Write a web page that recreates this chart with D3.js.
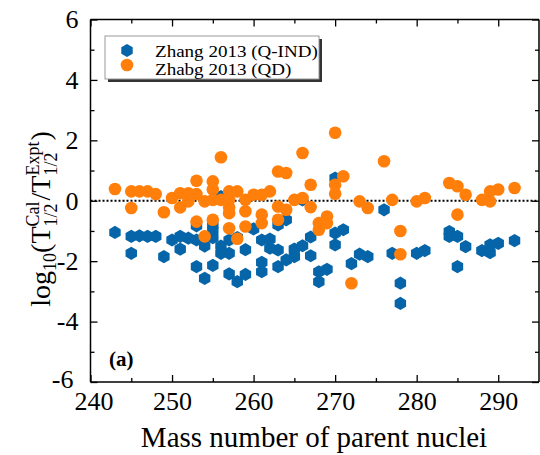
<!DOCTYPE html>
<html>
<head>
<meta charset="utf-8">
<script src="https://cdn.jsdelivr.net/npm/d3@7"></script>
<style>
  html, body { margin: 0; padding: 0; background: #fff; }
  svg { display: block; }
  text { font-family: "Liberation Serif", "Times New Roman", serif; fill: #000; }
</style>
</head>
<body>
<svg id="chart" width="540" height="455"></svg>
<script>
// ---------- data ----------
const seriesNames = ["Zhang 2013 (Q-IND)", "Zhabg 2013 (QD)"];
const qindMass = [243,245,245,246,247,248,249,250,251,251,252,253,253,253,254,254,255,255,255,255,256,256,256,257,257,257,258,258,259,259,260,261,261,261,262,262,263,263,263,264,264,265,265,266,266,267,267,268,268,269,270,270,270,271,272,273,274,276,277,278,278,280,281,284,284,285,285,286,288,289,289,290,292];
const qindVal  = [-1.05,-1.18,-1.74,-1.16,-1.18,-1.18,-1.85,-1.30,-1.18,-1.60,-1.24,-1.30,-0.83,-2.18,-2.57,-1.50,-0.80,-1.22,-2.14,-0.98,0.14,-1.50,-1.74,-1.74,-1.30,-2.42,-2.68,-1.22,-2.44,-1.62,-0.93,-1.30,-2.04,-2.35,-1.27,-1.57,-1.63,-2.18,-0.80,-0.63,-1.96,-1.60,-1.85,-1.49,0.03,-1.20,-1.82,-2.35,-2.68,-2.27,0.75,-1.07,-1.46,-0.96,-2.08,-1.77,-1.85,-0.30,-1.74,-2.73,-3.40,-1.74,-1.65,-1.02,-1.18,-1.18,-2.18,-1.52,-1.65,-1.46,-1.72,-1.41,-1.32];
const qdMass = [243,245,245,246,247,248,249,250,251,251,252,252,253,253,253,254,254,255,255,255,255,256,256,257,257,257,257,257,258,258,259,259,259,260,261,261,261,262,263,264,263,263,264,265,266,266,267,267,268,268,269,269,270,270,270,271,272,273,274,276,277,278,278,280,281,284,285,285,286,288,289,289,290,292];
const qdVal  = [0.39,0.31,-0.24,0.31,0.31,0.22,-0.38,0.09,0.25,-0.22,0.25,-0.02,0.66,0.22,-0.69,-0.02,-1.18,0.64,0.37,0.03,-0.63,1.44,0.03,0.31,0.03,-0.22,-0.41,-0.91,0.31,-1.26,0.03,-0.35,-0.85,0.20,0.20,-0.46,-0.74,0.31,0.97,0.92,-0.19,-0.63,-0.30,0.03,1.58,0.09,0.53,-0.21,-0.74,-0.96,-0.52,-0.74,2.25,0.53,0.23,0.81,-2.73,-0.02,-0.24,1.31,0.03,-1.00,-1.77,-0.02,0.09,0.59,0.48,-0.46,0.20,0.03,0.31,-0.02,0.37,0.42];
const xTicks = [240,250,260,270,280,290];
const yTicks = [-6,-4,-2,0,2,4,6];
const xLabel = "Mass number of parent nuclei";
const panelLabel = "(a)";

// ---------- layout ----------
const W = 540, H = 455;
const m = { left: 90.5, right: 1, top: 19.5, bottom: 73 };
const svg = d3.select("#chart");
const x = d3.scaleLinear().domain([240, 295]).range([m.left, W - m.right]);
const y = d3.scaleLinear().domain([-6, 6]).range([H - m.bottom, m.top]);
const blue = "#0565A8", orange = "#FF7F0A";
const fmt = d => String(d);

function hexPath(r) {
  const pts = d3.range(6).map(k => {
    const a = (-90 + 60 * k) * Math.PI / 180;
    return [r * Math.cos(a), r * Math.sin(a)];
  });
  return "M" + pts.map(p => p.join(",")).join("L") + "Z";
}

// zero line
svg.append("line")
  .attr("x1", x(240)).attr("x2", x(295))
  .attr("y1", y(0)).attr("y2", y(0))
  .attr("stroke", "#000").attr("stroke-width", 2)
  .attr("stroke-dasharray", "2,2");

// data
const qind = qindMass.map((a, i) => ({ a, v: qindVal[i] }));
const qd = qdMass.map((a, i) => ({ a, v: qdVal[i] }));
svg.append("g").selectAll("path").data(qind).join("path")
  .attr("d", hexPath(6.6))
  .attr("transform", d => `translate(${x(d.a)},${y(d.v)})`)
  .attr("fill", blue);
svg.append("g").selectAll("circle").data(qd).join("circle")
  .attr("cx", d => x(d.a)).attr("cy", d => y(d.v)).attr("r", 6.3)
  .attr("fill", orange);

// axes
const axStyle = g => {
  g.selectAll(".domain").attr("stroke", "#000").attr("stroke-width", 1.5);
  g.selectAll(".tick line").attr("stroke", "#000").attr("stroke-width", 1.3);
};
const xMinor = d3.range(245, 295, 10);
const yMinor = d3.range(-5, 6, 2);

// bottom
const gB = svg.append("g").attr("transform", `translate(0,${y(-6)})`)
  .call(d3.axisBottom(x).tickValues(xTicks).tickFormat(fmt).tickSize(-7).tickPadding(10).tickSizeOuter(0));
gB.selectAll(".tick text").attr("font-size", 26).attr("font-family", "Liberation Serif")
  .attr("dx", d => d === 240 ? 3 : 0);
gB.selectAll(".domain").attr("d", `M${x(240)},0H${x(295)}`);
axStyle(gB);
svg.append("g").attr("transform", `translate(0,${y(-6)})`)
  .call(d3.axisBottom(x).tickValues(xMinor).tickSize(-4).tickFormat("").tickSizeOuter(0))
  .call(g => g.select(".domain").remove()).call(axStyle);
// top
const gT = svg.append("g").attr("transform", `translate(0,${y(6)})`)
  .call(d3.axisTop(x).tickValues(xTicks).tickSize(-7).tickFormat("").tickSizeOuter(0));
gT.selectAll(".domain").attr("d", `M${x(240)},0H${x(295)}`);
axStyle(gT);
svg.append("g").attr("transform", `translate(0,${y(6)})`)
  .call(d3.axisTop(x).tickValues(xMinor).tickSize(-4).tickFormat("").tickSizeOuter(0))
  .call(g => g.select(".domain").remove()).call(axStyle);
// left
const gL = svg.append("g").attr("transform", `translate(${x(240)},0)`)
  .call(d3.axisLeft(y).tickValues(yTicks).tickFormat(fmt).tickSize(-7).tickPadding(12).tickSizeOuter(0));
gL.selectAll(".tick text").attr("font-size", 26).attr("font-family", "Liberation Serif")
  .attr("dx", d => d === -6 ? -5 : 0)
  .attr("dy", d => d === -6 ? "0.2em" : "0.32em");
gL.selectAll(".domain").attr("d", `M0,${y(-6)}V${y(6)}`);
axStyle(gL);
svg.append("g").attr("transform", `translate(${x(240)},0)`)
  .call(d3.axisLeft(y).tickValues(yMinor).tickSize(-4).tickFormat("").tickSizeOuter(0))
  .call(g => g.select(".domain").remove()).call(axStyle);
// right
const gR = svg.append("g").attr("transform", `translate(${x(295)},0)`)
  .call(d3.axisRight(y).tickValues(yTicks).tickSize(-7).tickFormat("").tickSizeOuter(0));
gR.selectAll(".domain").attr("d", `M0,${y(-6)}V${y(6)}`);
axStyle(gR);
svg.append("g").attr("transform", `translate(${x(295)},0)`)
  .call(d3.axisRight(y).tickValues(yMinor).tickSize(-4).tickFormat("").tickSizeOuter(0))
  .call(g => g.select(".domain").remove()).call(axStyle);

// x label
svg.append("text").attr("x", 314).attr("y", 447)
  .attr("text-anchor", "middle").attr("font-size", 29).text(xLabel);

// y label built from pieces
const yl = svg.append("g");
const base = 28, small = 18;
const parts = [
  { t: "log", s: base, dy: 0 },
  { t: "10", s: small, dy: 6 },
  { t: "(T", s: base, dy: 0 },
  { stack: ["Cal", "1/2"] },
  { t: "/T", s: base, dy: 0 },
  { stack: ["Expt", "1/2"] },
  { t: ")", s: base, dy: 0 }
];
let cx = 0;
parts.forEach(p => {
  if (p.stack) {
    const t1 = yl.append("text").attr("x", cx).attr("y", -11).attr("font-size", small).text(p.stack[0]);
    const t2 = yl.append("text").attr("x", cx).attr("y", 7).attr("font-size", small).text(p.stack[1]);
    cx += Math.max(t1.node().getComputedTextLength(), t2.node().getComputedTextLength()) + 1;
  } else {
    const t = yl.append("text").attr("x", cx).attr("y", p.dy).attr("font-size", p.s).text(p.t);
    cx += t.node().getComputedTextLength();
  }
});
const totalW = cx;
yl.attr("transform", `translate(50,${219 + totalW / 2}) rotate(-90)`);

// legend
const lg = svg.append("g");
lg.append("rect").attr("x", 108).attr("y", 39).attr("width", 214).attr("height", 43).attr("fill", "#333");
lg.append("rect").attr("x", 105).attr("y", 36).attr("width", 214).attr("height", 43)
  .attr("fill", "#fff").attr("stroke", "#999").attr("stroke-width", 1);
lg.append("path").attr("d", hexPath(6.6)).attr("transform", "translate(127,50.5)").attr("fill", blue);
lg.append("circle").attr("cx", 127).attr("cy", 65).attr("r", 6.3).attr("fill", orange);
const legFont = 16;
const legScale = 1.19;
[[seriesNames[0], 56.5], [seriesNames[1], 74.5]].forEach(([t, by]) => {
  lg.append("text")
    .attr("transform", `translate(155,${by}) scale(${legScale},1)`)
    .attr("font-size", legFont).text(t);
});

// panel label
svg.append("text").attr("x", 109).attr("y", 366).attr("font-size", 21)
  .attr("font-weight", "bold").text(panelLabel);
</script>
</body>
</html>
